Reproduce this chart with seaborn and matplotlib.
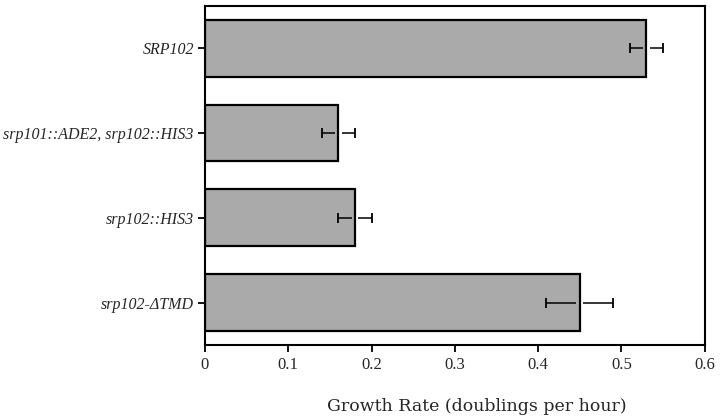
import numpy as np
import pandas as pd
import seaborn as sns
import matplotlib as mpl
import matplotlib.pyplot as plt

mpl.use('Agg')

strains = ['SRP102', 'srp101::ADE2, srp102::HIS3', 'srp102::HIS3', 'srp102-ΔTMD']
rates = [0.53, 0.16, 0.18, 0.45]
err = [0.02, 0.02, 0.02, 0.04]

sns.set_style('white')
plt.rcParams['font.family'] = ['Liberation Serif', 'DejaVu Serif']

df = pd.DataFrame({'strain': strains, 'rate': rates, 'err': err})

fig = plt.figure(figsize=(7.2, 4.17), dpi=100)
ax = fig.add_axes([0.2847, 0.1727, 0.694, 0.813])

sns.barplot(data=df, x='rate', y='strain', orient='h', color='#aaaaaa',
            saturation=1, edgecolor='black', linewidth=1.6, width=0.67,
            errorbar=None, ax=ax)

# error bars, broken where they cross the bar end
gap = 0.004
ypos = np.arange(len(strains))
for y, v, e in zip(ypos, df['rate'], df['err']):
    ax.hlines(y, v - e, v - gap, color='black', lw=1.1, zorder=4)
    ax.hlines(y, v + gap, v + e, color='black', lw=1.1, zorder=4)
    ax.plot([v - e, v + e], [y, y], ls='none', marker='|', ms=7, mew=1.3,
            color='black', zorder=4)

ax.set_xlim(0, 0.6)
ax.set_ylim(3.5, -0.5)
ax.set_xticks([0, 0.1, 0.2, 0.3, 0.4, 0.5, 0.6])
ax.set_xticklabels(['0', '0.1', '0.2', '0.3', '0.4', '0.5', '0.6'], fontsize=12,
                   family=['Liberation Serif', 'DejaVu Serif'])
ax.set_yticks(ypos)
ax.set_yticklabels(strains, fontsize=11.5, style='italic',
                   family=['Liberation Serif', 'DejaVu Serif'])
ax.tick_params(axis='both', direction='out', length=5, width=1.3, color='black',
               bottom=True, left=True, pad=3)
ax.tick_params(axis='x', pad=4)

for s in ax.spines.values():
    s.set_visible(True)
    s.set_color('black')
    s.set_linewidth(1.5)

ax.set_ylabel('')
ax.set_xlabel('Growth Rate (doublings per hour)', fontsize=12.5, labelpad=18,
              family=['DejaVu Serif'])
ax.xaxis.label.set_x(0.544)

fig.savefig('out.png', dpi=100)
plt.close(fig)
